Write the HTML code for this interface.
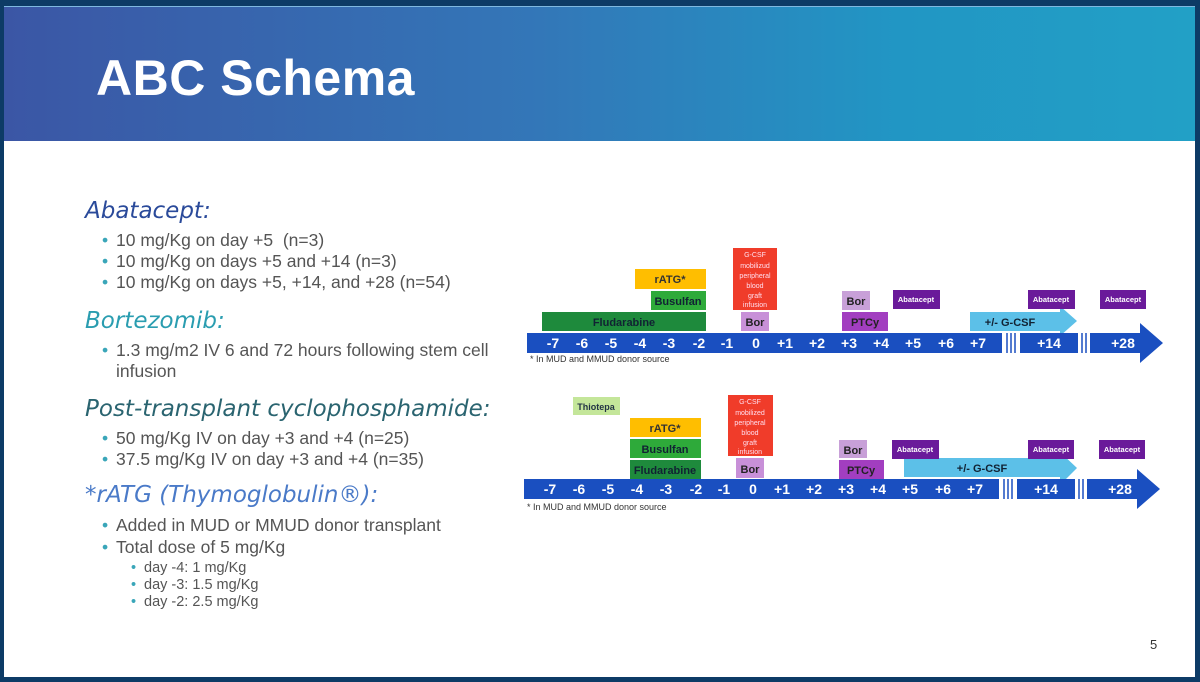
<!DOCTYPE html>
<html><head><meta charset="utf-8"><style>
body{margin:0;width:1200px;height:682px;overflow:hidden;background:#0d3b66;font-family:"Liberation Sans",Arial,sans-serif;}
#slide{position:absolute;left:4px;top:6px;width:1191px;height:671px;background:#fff;}
#hdr{position:absolute;left:0;top:0;width:1191px;height:134px;background:linear-gradient(90deg,#3b56a5 0%,#3377b8 45%,#2196c4 75%,#22a0c6 100%);border-top:1px solid #7fb8e0;}
#hdr h1{position:absolute;left:92px;top:42px;margin:0;font-size:50px;font-weight:bold;color:#fff;letter-spacing:0.5px}
.t{position:absolute;white-space:nowrap}
.h{font-family:"DejaVu Sans",sans-serif;font-style:italic;font-size:23px;font-weight:300}
.b{font-size:17.5px;color:#555}
.b:before{content:"•";color:#3aa6b9;position:absolute;left:-14px}
.s{font-size:14.5px;color:#555}
.s:before{content:"•";color:#3aa6b9;position:absolute;left:-13px}
</style></head><body>
<div id="slide">
<div id="hdr"><h1>ABC Schema</h1></div>
</div>
<div class="t h" style="left:85px;top:198px;color:#2a4a9a">Abatacept:</div>
<div class="t b" style="left:116px;top:230px">10 mg/Kg on day +5&nbsp; (n=3)</div>
<div class="t b" style="left:116px;top:251px">10 mg/Kg on days +5 and +14 (n=3)</div>
<div class="t b" style="left:116px;top:272px">10 mg/Kg on days +5, +14, and +28 (n=54)</div>
<div class="t h" style="left:85px;top:308px;color:#2a9db0">Bortezomib:</div>
<div class="t b" style="left:116px;top:340px">1.3 mg/m2 IV 6 and 72 hours following stem cell</div>
<div class="t" style="left:116px;top:361px;font-size:17.5px;color:#555">infusion</div>
<div class="t h" style="left:85px;top:396px;color:#2a6470">Post-transplant cyclophosphamide:</div>
<div class="t b" style="left:116px;top:428px">50 mg/Kg IV on day +3 and +4 (n=25)</div>
<div class="t b" style="left:116px;top:449px">37.5 mg/Kg IV on day +3 and +4 (n=35)</div>
<div class="t h" style="left:85px;top:482px;color:#4a7ac8">*rATG (Thymoglobulin®):</div>
<div class="t b" style="left:116px;top:515px">Added in MUD or MMUD donor transplant</div>
<div class="t b" style="left:116px;top:537px">Total dose of 5 mg/Kg</div>
<div class="t s" style="left:144px;top:560px">day -4: 1 mg/Kg</div>
<div class="t s" style="left:144px;top:577px">day -3: 1.5 mg/Kg</div>
<div class="t s" style="left:144px;top:594px">day -2: 2.5 mg/Kg</div>
<div class="t" style="left:1150px;top:637px;font-size:13px;color:#333">5</div>

<svg style="position:absolute;left:0;top:0" width="1200" height="682" font-family="Liberation Sans, Arial, sans-serif" font-weight="bold">
<defs>
<g id="tl">
 <rect x="0" y="0" width="475" height="20" fill="#1a4fc0"/>
 <rect x="493" y="0" width="58" height="20" fill="#1a4fc0"/>
 <polygon points="563,0 613,0 613,-10 636,10 613,30 613,20 563,20" fill="#1a4fc0"/>
 <g stroke="#1a4fc0" stroke-width="1.5"><line x1="480" y1="0" x2="480" y2="20"/><line x1="484" y1="0" x2="484" y2="20"/><line x1="488" y1="0" x2="488" y2="20"/><line x1="555" y1="0" x2="555" y2="20"/><line x1="559" y1="0" x2="559" y2="20"/></g>
 <g fill="#fff" font-size="14" text-anchor="middle">
 <text x="26" y="15">-7</text><text x="55" y="15">-6</text><text x="84" y="15">-5</text><text x="113" y="15">-4</text><text x="142" y="15">-3</text><text x="172" y="15">-2</text><text x="200" y="15">-1</text><text x="229" y="15">0</text><text x="258" y="15">+1</text><text x="290" y="15">+2</text><text x="322" y="15">+3</text><text x="354" y="15">+4</text><text x="386" y="15">+5</text><text x="419" y="15">+6</text><text x="451" y="15">+7</text><text x="522" y="15">+14</text><text x="596" y="15">+28</text>
 </g>
</g>
</defs>
<!-- Timeline 1 -->
<rect x="542" y="312" width="164" height="19" fill="#1e8a3c"/><text x="624" y="326" fill="#123" font-size="11" text-anchor="middle">Fludarabine</text>
<rect x="651" y="291" width="55" height="19" fill="#2eaa3a"/><text x="678" y="305" fill="#123" font-size="11" text-anchor="middle">Busulfan</text>
<rect x="635" y="269" width="71" height="20" fill="#ffbe00"/><text x="670" y="283" fill="#333" font-size="11" text-anchor="middle">rATG*</text>
<rect x="733" y="248" width="44" height="62" fill="#f03c2a"/>
<g fill="#fde" font-size="7" text-anchor="middle" font-weight="normal"><text x="755" y="257">G-CSF</text><text x="755" y="268">mobilizud</text><text x="755" y="278">peripheral</text><text x="755" y="288">blood</text><text x="755" y="298">graft</text><text x="755" y="307">infusion</text></g>
<rect x="741" y="312" width="28" height="19" fill="#c890d8"/><text x="755" y="326" fill="#222" font-size="11" text-anchor="middle">Bor</text>
<rect x="842" y="291" width="28" height="19" fill="#c8a0d8"/><text x="856" y="305" fill="#222" font-size="11" text-anchor="middle">Bor</text>
<rect x="842" y="312" width="46" height="19" fill="#a23ec0"/><text x="865" y="326" fill="#222" font-size="11" text-anchor="middle">PTCy</text>
<polygon points="970,312 1060,312 1060,306 1077,321 1060,336 1060,331 970,331" fill="#5cc0e8"/><text x="1010" y="326" fill="#123" font-size="11" text-anchor="middle">+/- G-CSF</text>
<g fill="#6a1a9a"><rect x="893" y="290" width="47" height="19"/><rect x="1028" y="290" width="47" height="19"/><rect x="1100" y="290" width="46" height="19"/></g>
<g fill="#fff" font-size="7.5" text-anchor="middle"><text x="916" y="302">Abatacept</text><text x="1051" y="302">Abatacept</text><text x="1123" y="302">Abatacept</text></g>
<use href="#tl" x="527" y="333"/>
<text x="530" y="362" font-size="9" fill="#333" font-weight="normal">* In MUD and MMUD donor source</text>
<!-- Timeline 2 -->
<rect x="573" y="397" width="47" height="18" fill="#c4e69a"/><text x="596" y="410" fill="#234" font-size="9" text-anchor="middle">Thiotepa</text>
<rect x="630" y="418" width="71" height="19" fill="#ffbe00"/><text x="665" y="432" fill="#333" font-size="11" text-anchor="middle">rATG*</text>
<rect x="630" y="439" width="71" height="19" fill="#2eaa3a"/><text x="665" y="453" fill="#123" font-size="11" text-anchor="middle">Busulfan</text>
<rect x="630" y="460" width="71" height="19" fill="#1e8a3c"/><text x="665" y="474" fill="#123" font-size="11" text-anchor="middle">Fludarabine</text>
<rect x="728" y="395" width="45" height="61" fill="#f03c2a"/>
<g fill="#fde" font-size="7" text-anchor="middle" font-weight="normal"><text x="750" y="404">G-CSF</text><text x="750" y="415">mobilized</text><text x="750" y="425">peripheral</text><text x="750" y="435">blood</text><text x="750" y="445">graft</text><text x="750" y="454">infusion</text></g>
<rect x="736" y="458" width="28" height="20" fill="#c890d8"/><text x="750" y="473" fill="#222" font-size="11" text-anchor="middle">Bor</text>
<rect x="839" y="440" width="28" height="18" fill="#c8a0d8"/><text x="853" y="454" fill="#222" font-size="11" text-anchor="middle">Bor</text>
<rect x="839" y="460" width="45" height="19" fill="#a23ec0"/><text x="861" y="474" fill="#222" font-size="11" text-anchor="middle">PTCy</text>
<polygon points="904,458 1060,458 1060,452 1077,468 1060,485 1060,477 904,477" fill="#5cc0e8"/><text x="982" y="472" fill="#123" font-size="11" text-anchor="middle">+/- G-CSF</text>
<g fill="#6a1a9a"><rect x="892" y="440" width="47" height="19"/><rect x="1028" y="440" width="46" height="19"/><rect x="1099" y="440" width="46" height="19"/></g>
<g fill="#fff" font-size="7.5" text-anchor="middle"><text x="915" y="452">Abatacept</text><text x="1051" y="452">Abatacept</text><text x="1122" y="452">Abatacept</text></g>
<use href="#tl" x="524" y="479"/>
<text x="527" y="510" font-size="9" fill="#333" font-weight="normal">* In MUD and MMUD donor source</text>
</svg>
</body></html>
